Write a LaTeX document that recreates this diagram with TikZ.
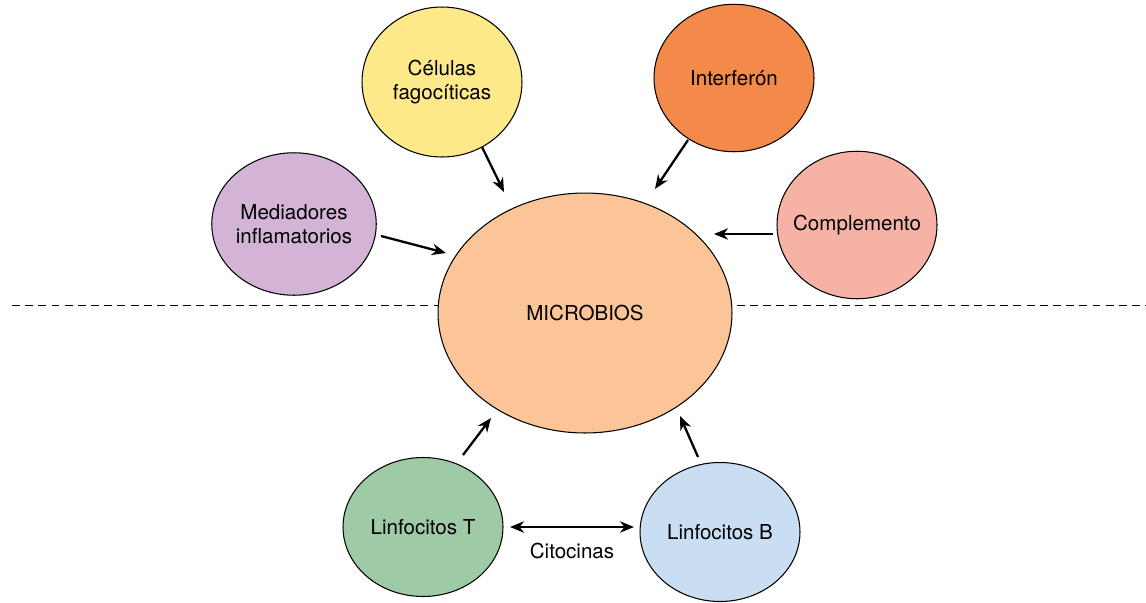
\documentclass[tikz,border=0pt]{standalone}
\usepackage{fontspec}
\setmainfont{TeX Gyre Heros}
\usetikzlibrary{shapes.geometric,arrows.meta}

\definecolor{microbe}{HTML}{FCC598}
\definecolor{phago}{HTML}{FDE98A}
\definecolor{interf}{HTML}{F38A49}
\definecolor{compl}{HTML}{F7B2A6}
\definecolor{mediat}{HTML}{D3B4D6}
\definecolor{tcell}{HTML}{9ECAA5}
\definecolor{bcell}{HTML}{C9DEF2}

\begin{document}
\begin{tikzpicture}[x=0.02cm,y=-0.02cm,
  >={Stealth[length=8pt,width=6.5pt]},
  cell/.style={ellipse,draw,line width=0.6pt,inner sep=0pt,align=center,
    minimum width=3.2cm,minimum height=2.95cm,font=\fontsize{11.7}{14}\selectfont},
  push/.style={->,line width=1.3pt}]
\useasboundingbox (0,0) rectangle (1146,602);

% dividing line, hidden behind the centre
\draw[dash pattern=on 4.5pt off 3pt,line width=0.5pt] (12,305) coordinate (line-l) -- (1146,305) coordinate (line-r);

\node[cell,fill=microbe,minimum width=5.88cm,minimum height=4.8cm] (mic) at (585,313) {MICROBIOS};
\node[cell,fill=phago,minimum height=3cm] (fag) at (442,82) {Células\\fagocíticas};
\node[cell,fill=interf] (ifn) at (734,78) {Interferón};
\node[cell,fill=compl,inner xsep=-11pt] (comp) at (857,225) {Complemento};
\node[cell,fill=mediat,minimum height=2.85cm] (med) at (294,224) {Mediadores\\inflamatorios};
\node[cell,fill=tcell,minimum height=2.78cm] (lt) at (423,527) {Linfocitos T};
\node[cell,fill=bcell,minimum height=2.78cm] (lb) at (720,532) {Linfocitos B};

% arrow ends near the centre
\coordinate (in-fag) at (504,192);
\coordinate (in-ifn) at (655,189);
\coordinate (in-comp) at (714,234);
\coordinate (in-med) at (446,253);
\coordinate (in-lt) at (491,418);
\coordinate (in-lb) at (680,416);
\coordinate (out-fag) at (482,147);
\coordinate (out-ifn) at (688,140);
\coordinate (out-comp) at (773,234);
\coordinate (out-med) at (381,236);
\coordinate (out-lt) at (463,455);
\coordinate (out-lb) at (698,457);
\coordinate (cit-l) at (510,527);
\coordinate (cit-r) at (634,527);

\draw[push] (out-fag) -- (in-fag);
\draw[push] (out-ifn) -- (in-ifn);
\draw[push] (out-comp) -- (in-comp);
\draw[push] (out-med) -- (in-med);
\draw[push] (out-lt) -- (in-lt);
\draw[push] (out-lb) -- (in-lb);
\draw[push,<->] (cit-l) -- (cit-r);

\node[font=\fontsize{11.7}{14}\selectfont] (cit) at (572,551) {Citocinas};
\end{tikzpicture}
\end{document}
